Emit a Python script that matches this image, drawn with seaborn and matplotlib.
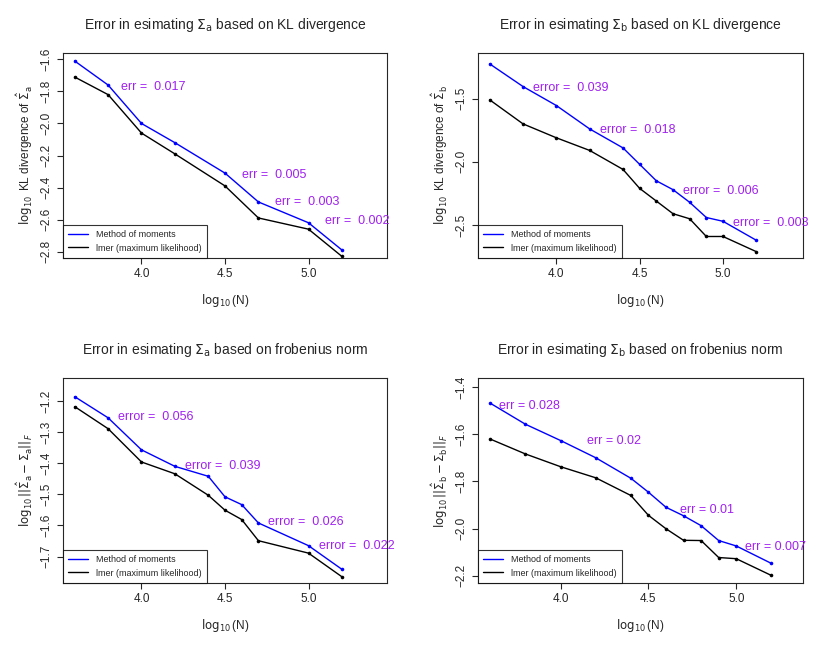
import matplotlib
matplotlib.use("Agg")
import matplotlib.pyplot as plt
import seaborn as sns
import pandas as pd

sns.set_style("white")
plt.rcParams["font.family"] = "Liberation Sans"
plt.rcParams["mathtext.fontset"] = "dejavusans"

x1 = [3.6, 3.8, 4.0, 4.2, 4.5, 4.7, 5.0, 5.2]
mom1 = [-1.61, -1.76, -2.00, -2.12, -2.31, -2.49, -2.62, -2.79]
lmer1 = [-1.71, -1.82, -2.06, -2.19, -2.39, -2.59, -2.66, -2.83]

x2 = [3.6, 3.8, 4.0, 4.2, 4.4, 4.5, 4.6, 4.7, 4.8, 4.9, 5.0, 5.2]
mom2 = [-1.226, -1.405, -1.555, -1.74, -1.89, -2.02, -2.15, -2.22, -2.32, -2.44, -2.47, -2.62]
lmer2 = [-1.51, -1.70, -1.81, -1.91, -2.06, -2.21, -2.31, -2.41, -2.45, -2.59, -2.59, -2.71]

x3 = [3.6, 3.8, 4.0, 4.2, 4.4, 4.5, 4.6, 4.7, 5.0, 5.2]
mom3 = [-1.186, -1.254, -1.357, -1.41, -1.442, -1.508, -1.533, -1.592, -1.665, -1.741]
lmer3 = [-1.218, -1.289, -1.396, -1.434, -1.503, -1.551, -1.581, -1.649, -1.689, -1.765]

x4 = [3.6, 3.8, 4.0, 4.2, 4.4, 4.5, 4.6, 4.7, 4.8, 4.9, 5.0, 5.2]
mom4 = [-1.469, -1.558, -1.627, -1.700, -1.787, -1.846, -1.910, -1.946, -1.988, -2.051, -2.074, -2.148]
lmer4 = [-1.621, -1.684, -1.738, -1.785, -1.860, -1.944, -2.001, -2.050, -2.051, -2.123, -2.128, -2.199]

labels1 = ["err =  0.017", "err =  0.005", "err =  0.003", "err =  0.002"]
lab1_xy = [(3.88, -1.77), (4.6, -2.32), (4.8, -2.49), (5.1, -2.61)]
labels2 = ["error =  0.039", "error =  0.018", "error =  0.006", "error =  0.003"]
lab2_xy = [(3.86, -1.42), (4.26, -1.75), (4.76, -2.23), (5.06, -2.48)]
labels3 = ["error =  0.056", "error =  0.039", "error =  0.026", "error =  0.022"]
lab3_xy = [(3.86, -1.25), (4.26, -1.41), (4.76, -1.59), (5.06, -1.665)]
labels4 = ["err = 0.028", "err = 0.02", "err = 0.01", "err = 0.007"]
lab4_xy = [(3.65, -1.48), (4.15, -1.63), (4.68, -1.92), (5.05, -2.08)]

panels = [
    (x1, mom1, lmer1, labels1, lab1_xy, "Error in esimating $\\Sigma_\\mathrm{a}$ based on KL divergence",
     "$\\log_{10}$ KL divergence of $\\hat{\\Sigma}_\\mathrm{a}$", (3.53, 5.47), (-2.84, -1.56), [-1.6, -1.8, -2.0, -2.2, -2.4, -2.6, -2.8]),
    (x2, mom2, lmer2, labels2, lab2_xy, "Error in esimating $\\Sigma_\\mathrm{b}$ based on KL divergence",
     "$\\log_{10}$ KL divergence of $\\hat{\\Sigma}_\\mathrm{b}$", (3.53, 5.48), (-2.76, -1.14), [-1.5, -2.0, -2.5]),
    (x3, mom3, lmer3, labels3, lab3_xy, "Error in esimating $\\Sigma_\\mathrm{a}$ based on frobenius norm",
     "$\\log_{10}||\\hat{\\Sigma}_\\mathrm{a}-\\Sigma_\\mathrm{a}||_F$", (3.53, 5.47), (-1.785, -1.126), [-1.2, -1.3, -1.4, -1.5, -1.6, -1.7]),
    (x4, mom4, lmer4, labels4, lab4_xy, "Error in esimating $\\Sigma_\\mathrm{b}$ based on frobenius norm",
     "$\\log_{10}||\\hat{\\Sigma}_\\mathrm{b}-\\Sigma_\\mathrm{b}||_F$", (3.53, 5.38), (-2.231, -1.362), [-1.4, -1.6, -1.8, -2.0, -2.2]),
]

fig = plt.figure(figsize=(8.3, 6.5), dpi=100)
W, H = 830, 650
boxes = [(63, 53, 387, 258), (478, 53, 803, 258), (63, 378, 387, 583), (478, 378, 803, 583)]
purple = "#A020F0"
for (x, m, l, labs, xy, title, ylab, xl, yl, yt), (L, T, R, B) in zip(panels, boxes):
    ax = fig.add_axes([L / W, 1 - B / H, (R - L) / W, (B - T) / H])
    df = pd.DataFrame({"x": x + x, "y": m + l,
                       "s": ["Method of moments"] * len(x) + ["lmer (maximum likelihood)"] * len(x)})
    sns.lineplot(data=df, x="x", y="y", hue="s", palette=["#0000FF", "#000000"], marker="o",
                 markersize=2.6, markeredgewidth=0, linewidth=1, ax=ax)
    for t, (tx, ty) in zip(labs, xy):
        ax.text(tx, ty, t, color=purple, fontsize=9, va="center", ha="left")
    ax.set_xlim(*xl)
    ax.set_ylim(*yl)
    ax.set_xticks([4.0, 4.5, 5.0])
    ax.set_xticklabels(["4.0", "4.5", "5.0"], fontsize=8.5)
    ax.set_yticks(yt)
    ax.set_yticklabels([f"{v:.1f}".replace("-", "\u2212") for v in yt], fontsize=8.5, rotation=90, va="center")
    ax.tick_params(length=4, width=0.8, direction="out", left=True, bottom=True)
    ax.set_title(title, fontsize=10, pad=17)
    ax.set_xlabel("$\\log_{10}$(N)", fontsize=8.5, labelpad=8)
    ax.set_ylabel(ylab, fontsize=8.5)
    for s in ax.spines.values():
        s.set_linewidth(0.8)
    leg = ax.legend(loc="lower left", fontsize=6.5, frameon=True, fancybox=False, borderaxespad=0,
                    handlelength=2.2, borderpad=0.6)
    leg.get_frame().set_edgecolor("black")
    leg.get_frame().set_linewidth(0.8)
    for h in leg.legend_handles:
        h.set_marker("")
fig.savefig("out.png", dpi=100)
